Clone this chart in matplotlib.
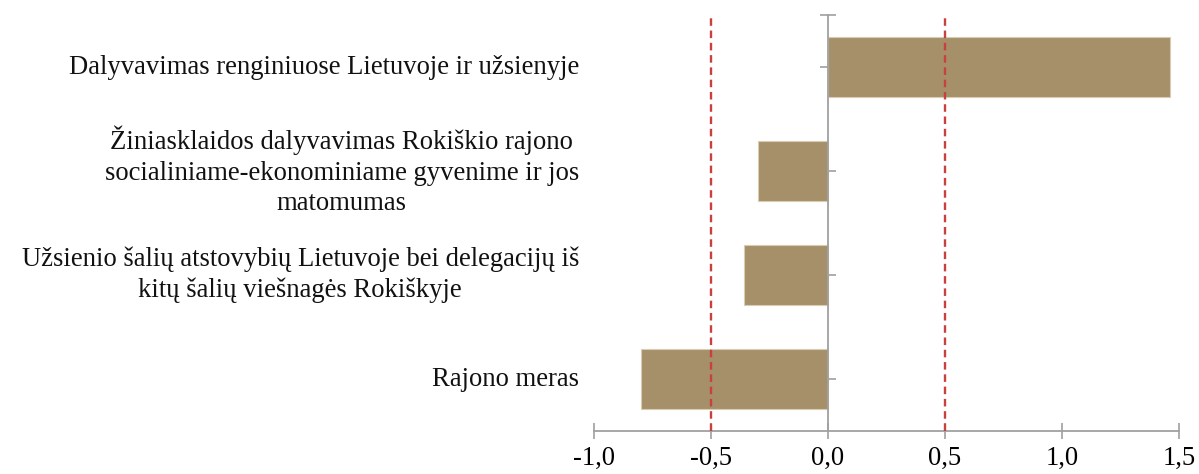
import numpy as np
import matplotlib.pyplot as plt
from matplotlib import transforms

# Kategorijos (iš apačios į viršų) ir jų reikšmės
kategorijos = [
    'Rajono meras',
    'Užsienio šalių atstovybių Lietuvoje bei delegacijų iš\nkitų šalių viešnagės Rokiškyje',
    'Žiniasklaidos dalyvavimas Rokiškio rajono\nsocialiniame-ekonominiame gyvenime ir jos\nmatomumas',
    'Dalyvavimas renginiuose Lietuvoje ir užsienyje',
]
reiksmes = [-0.80, -0.36, -0.30, 1.46]
ribos = [-0.5, 0.5]
x_zymes = [-1.0, -0.5, 0.0, 0.5, 1.0, 1.5]
x_zymiu_tekstai = ['-1,0', '-0,5', '0,0', '0,5', '1,0', '1,5']

plt.rcParams['font.family'] = ['Liberation Serif', 'DejaVu Serif']

fig = plt.figure(figsize=(11.99, 4.74), dpi=100)
ax = fig.add_axes([594 / 1199, 43 / 474, 585 / 1199, 416 / 474])

y = np.arange(len(kategorijos))
ax.barh(y, reiksmes, height=0.575, color='#A69069', edgecolor='#D8CCB2',
        linewidth=0.8, zorder=2)

# Ribinės linijos
for r in ribos:
    ax.axvline(r, color='#C8413F', linestyle=(0, (3.2, 2.0)), linewidth=1.7, zorder=3)

ax.set_xlim(-1.0, 1.5)
ax.set_ylim(-0.5, len(kategorijos) - 0.5)

# Ašys
for s in ['top', 'right']:
    ax.spines[s].set_visible(False)
ax.spines['left'].set_position(('data', 0))
ax.spines['left'].set_color('#A0A0A0')
ax.spines['left'].set_linewidth(1.3)
ax.spines['bottom'].set_color('#A0A0A0')
ax.spines['bottom'].set_linewidth(1.3)

ax.set_xticks(x_zymes, x_zymiu_tekstai)
ax.tick_params(axis='x', direction='inout', length=11, width=1.2, color='#A0A0A0',
               labelsize=19.2, pad=5)
ax.set_yticks(list(y) + [len(kategorijos) - 0.5])
ax.set_yticklabels([])
ax.tick_params(axis='y', direction='inout', length=12, width=1.2, color='#A0A0A0')

# Kategorijų pavadinimai kairėje
trans = transforms.blended_transform_factory(fig.transFigure, ax.transData)
for yi, txt in zip(y, kategorijos):
    ax.text(579 / 1199, yi, txt, transform=trans, ha='right', va='center',
            multialignment='center', fontsize=19.2, linespacing=1.3, color='#111111')

plt.savefig('out.png', dpi=100)
